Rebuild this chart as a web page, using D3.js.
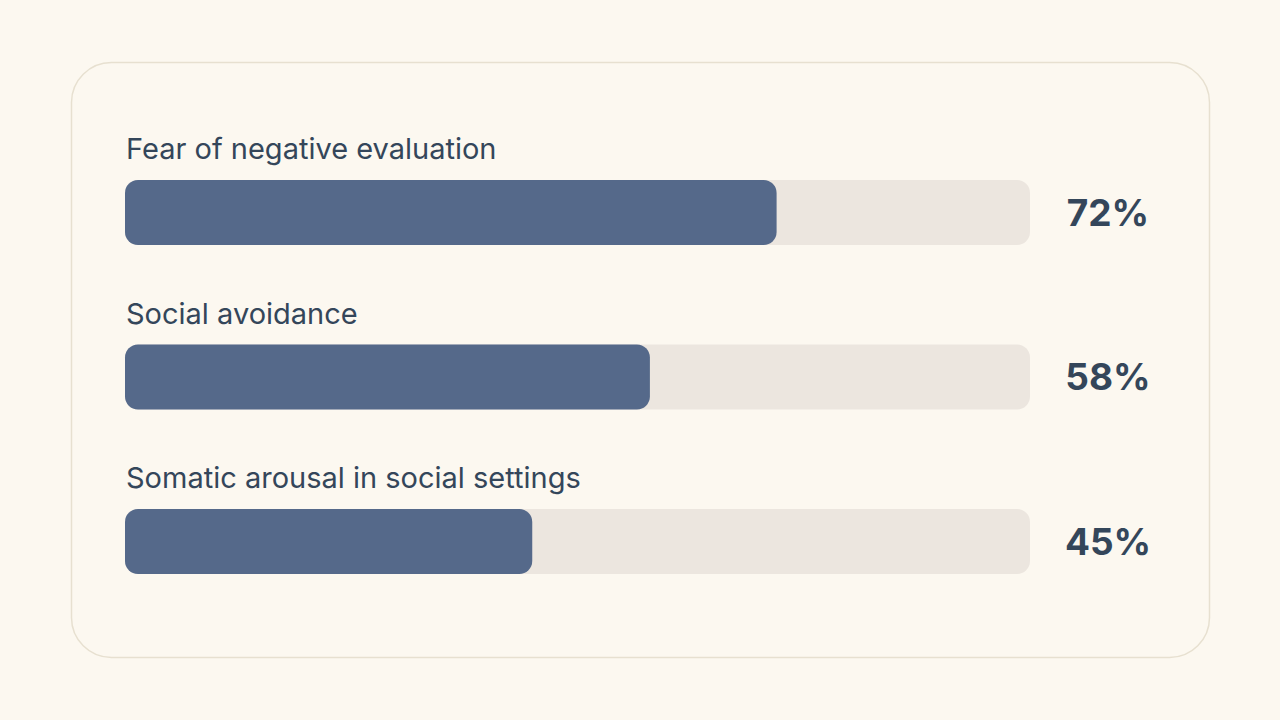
<!DOCTYPE html>
<html>
<head>
<meta charset="utf-8">
<script src="https://cdn.jsdelivr.net/npm/d3@7"></script>
<style>
  html, body { margin: 0; padding: 0; background: #fcf8f0; }
  svg { display: block; }
</style>
</head>
<body>
<script>
// data
var categories = ['Fear of negative evaluation', 'Social avoidance', 'Somatic arousal in social settings'];
var values = [72, 58, 45];
var valueLabels = ['72%', '58%', '45%'];

var size = { width: 1280, height: 720 };

var card = { x: 71, y: 62, width: 1138, height: 595, r: 40 };

var track = { x0: 125, x1: 1030, height: 65, r: 13 };

var rows = categories.map(function(c, i) {
  return { name: c, value: values[i], label: valueLabels[i] };
});

var svg = d3.select('body').append('svg')
  .attr('width', size.width)
  .attr('height', size.height);

svg.append('rect')
  .attr('width', size.width)
  .attr('height', size.height)
  .attr('fill', '#fcf8f0');

svg.append('rect')
  .attr('x', card.x + 0.5)
  .attr('y', card.y + 0.5)
  .attr('width', card.width)
  .attr('height', card.height)
  .attr('rx', card.r)
  .attr('ry', card.r)
  .attr('fill', '#fcf8f0')
  .attr('stroke', '#e7e0d0')
  .attr('stroke-width', 1.5);

var x = d3.scaleLinear()
  .domain([0, 100])
  .range([track.x0, track.x1]);

// band positions for each row's bar
var y = d3.scaleBand()
  .domain(categories)
  .range([180, 180 + 3 * 164.5])
  .paddingInner(0);

var g = svg.selectAll('g.row')
  .data(rows)
  .enter()
  .append('g')
  .attr('class', 'row')
  .attr('transform', function(d) { return 'translate(0,' + y(d.name) + ')'; });

g.append('rect')
  .attr('x', x(0))
  .attr('y', 0)
  .attr('width', x(100) - x(0))
  .attr('height', track.height)
  .attr('rx', track.r)
  .attr('fill', '#ece6df');

g.append('rect')
  .attr('x', x(0))
  .attr('y', 0)
  .attr('width', function(d) { return x(d.value) - x(0); })
  .attr('height', track.height)
  .attr('rx', track.r)
  .attr('fill', '#55698a');

g.append('text')
  .attr('x', 126)
  .attr('y', -21)
  .text(function(d) { return d.name; })
  .attr('font-family', 'Inter, sans-serif')
  .attr('font-size', '29px')
  .attr('fill', '#34465a');

g.append('text')
  .attr('x', 1108)
  .attr('y', track.height / 2)
  .attr('dy', '0.36em')
  .attr('text-anchor', 'middle')
  .text(function(d) { return d.label; })
  .attr('font-family', 'Inter, sans-serif')
  .attr('font-weight', 700)
  .attr('font-size', '37px')
  .attr('fill', '#34465a');
</script>
</body>
</html>
